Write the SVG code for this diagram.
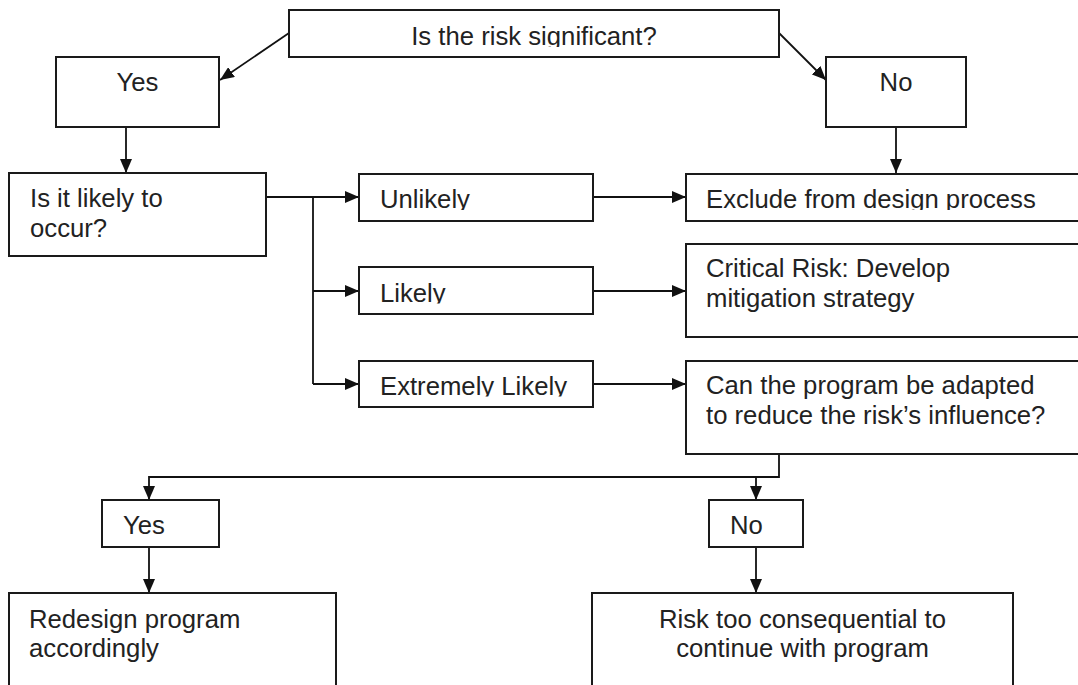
<svg xmlns="http://www.w3.org/2000/svg" width="1078" height="685" viewBox="0 0 1078 685">
<style>
.box{fill:#fff;stroke:#1a1a1a;stroke-width:2}
.t{font-family:"Liberation Sans",Arial,sans-serif;font-size:25.7px;fill:#222}
.m{text-anchor:middle}
.c{fill:none;stroke:#111;stroke-width:1.8}
.a{marker-end:url(#ah)}
</style>
<defs>
<marker id="ah" markerUnits="userSpaceOnUse" markerWidth="14" markerHeight="12" refX="14" refY="6" orient="auto"><path d="M0,0L14,6L0,12z" fill="#111"/></marker>
<clipPath id="cTop"><rect x="289" y="10" width="490" height="37"/></clipPath>
<clipPath id="cUn"><rect x="359" y="174" width="234" height="36"/></clipPath>
<clipPath id="cEx"><rect x="686" y="174" width="400" height="36"/></clipPath>
<clipPath id="cLi"><rect x="359" y="267" width="234" height="36.5"/></clipPath>
<clipPath id="cEL"><rect x="359" y="361" width="234" height="35.5"/></clipPath>
</defs>
<rect width="1078" height="685" fill="#fff"/>
<g id="connectors">
<path class="c a" d="M289,33L220,80"/>
<path class="c a" d="M779,33L826,80"/>
<path class="c a" d="M126,127V173"/>
<path class="c a" d="M896,127V173"/>
<path class="c a" d="M266,197H359"/>
<path class="c" d="M313,197V384"/>
<path class="c a" d="M313,291H359"/>
<path class="c a" d="M313,384H359"/>
<path class="c a" d="M593,197H686"/>
<path class="c a" d="M593,291H686"/>
<path class="c a" d="M593,384H686"/>
<path class="c a" d="M779,454V477H149V500"/>
<path class="c a" d="M756,477V500"/>
<path class="c a" d="M149,547V593"/>
<path class="c a" d="M756,547V593"/>
</g>
<g id="node-significant"><rect class="box" x="289" y="10" width="490" height="47"/><text class="t m" x="534" y="45" clip-path="url(#cTop)">Is the risk significant?</text></g>
<g id="node-yes-top"><rect class="box" x="56" y="57" width="163" height="70"/><text class="t m" x="137.5" y="91">Yes</text></g>
<g id="node-no-top"><rect class="box" x="826" y="57" width="140" height="70"/><text class="t m" x="896" y="91">No</text></g>
<g id="node-likely-q"><rect class="box" x="9" y="173" width="257" height="83"/><text class="t" x="30" y="207">Is it likely to</text><text class="t" x="30" y="237">occur?</text></g>
<g id="node-unlikely"><rect class="box" x="359" y="174" width="234" height="47"/><text class="t" x="380" y="208" clip-path="url(#cUn)">Unlikely</text></g>
<g id="node-likely"><rect class="box" x="359" y="267" width="234" height="47"/><text class="t" x="380" y="302" clip-path="url(#cLi)">Likely</text></g>
<g id="node-extremely"><rect class="box" x="359" y="361" width="234" height="46"/><text class="t" x="380" y="395" clip-path="url(#cEL)">Extremely Likely</text></g>
<g id="node-exclude"><rect class="box" x="686" y="174" width="400" height="47"/><text class="t" x="706" y="208" clip-path="url(#cEx)">Exclude from design process</text></g>
<g id="node-critical"><rect class="box" x="686" y="244" width="400" height="93"/><text class="t" x="706" y="277">Critical Risk: Develop</text><text class="t" x="706" y="307">mitigation strategy</text></g>
<g id="node-adapt"><rect class="box" x="686" y="361" width="400" height="93"/><text class="t" x="706" y="394">Can the program be adapted</text><text class="t" x="706" y="424">to reduce the risk’s influence?</text></g>
<g id="node-yes-bottom"><rect class="box" x="102" y="500" width="117" height="47"/><text class="t" x="123" y="534">Yes</text></g>
<g id="node-no-bottom"><rect class="box" x="709" y="500" width="94" height="47"/><text class="t" x="730" y="534">No</text></g>
<g id="node-redesign"><rect class="box" x="9" y="593" width="327" height="100"/><text class="t" x="29" y="628">Redesign program</text><text class="t" x="29" y="657">accordingly</text></g>
<g id="node-risk"><rect class="box" x="592" y="593" width="421" height="100"/><text class="t m" x="802.5" y="628">Risk too consequential to</text><text class="t m" x="802.5" y="657">continue with program</text></g>
</svg>
